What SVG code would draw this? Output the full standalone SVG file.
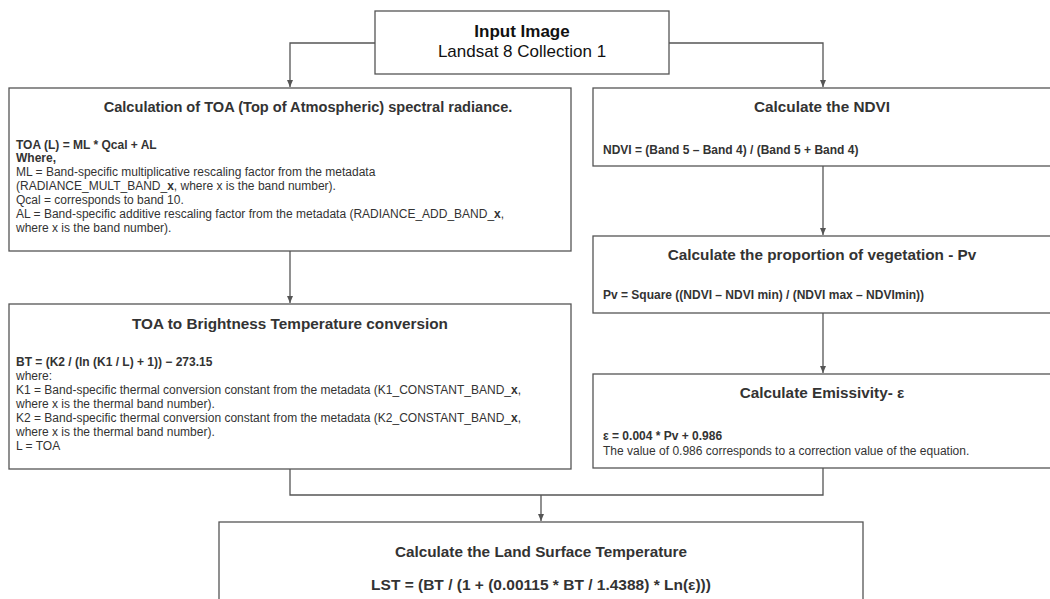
<svg xmlns="http://www.w3.org/2000/svg" width="1050" height="599" viewBox="0 0 1050 599">
<defs>
<marker id="arr" markerWidth="8" markerHeight="8" refX="7" refY="4" orient="auto" markerUnits="userSpaceOnUse">
<path d="M0,1 L7,4 L0,7 Z" fill="#555"/>
</marker>
<style>
.box{fill:#fff;stroke:#555;stroke-width:1.3}
.ln{fill:none;stroke:#555;stroke-width:1.3}
text{font-family:"Liberation Sans",Arial,sans-serif;fill:#333}
.t{font-size:15.3px;font-weight:bold;text-anchor:middle}
.b{font-size:12px;font-weight:bold}
.r{font-size:12px}
</style>
</defs>
<rect width="1050" height="599" fill="#fff"/>
<g id="connectors">
<path class="ln" d="M375,43 H290 V87" marker-end="url(#arr)"/>
<path class="ln" d="M669,43 H823 V87" marker-end="url(#arr)"/>
<path class="ln" d="M290,251 V303" marker-end="url(#arr)"/>
<path class="ln" d="M823,166 V235" marker-end="url(#arr)"/>
<path class="ln" d="M823,313 V373" marker-end="url(#arr)"/>
<path class="ln" d="M290,469 V495 H823 V468"/>
<path class="ln" d="M541,495 V521" marker-end="url(#arr)"/>
</g>
<g id="input">
<rect class="box" x="375" y="11" width="294" height="63"/>
<text x="522" y="37" style="font-size:17px;font-weight:bold;text-anchor:middle;fill:#111">Input Image</text>
<text x="522" y="57" style="font-size:17px;text-anchor:middle;fill:#111">Landsat 8 Collection 1</text>
</g>
<g id="toa">
<rect class="box" x="9" y="88" width="562" height="163"/>
<text class="t" x="308" y="112" style="font-size:14.6px">Calculation of TOA (Top of Atmospheric) spectral radiance.</text>
<text class="b" x="16" y="149">TOA (L) = ML * Qcal + AL</text>
<text class="b" x="16" y="162">Where,</text>
<text class="r" x="16" y="176">ML = Band-specific multiplicative rescaling factor from the metadata</text>
<text class="r" x="16" y="190">(RADIANCE_MULT_BAND_<tspan font-weight="bold">x</tspan>, where x is the band number).</text>
<text class="r" x="16" y="204">Qcal = corresponds to band 10.</text>
<text class="r" x="16" y="218">AL = Band-specific additive rescaling factor from the metadata (RADIANCE_ADD_BAND_<tspan font-weight="bold">x</tspan>,</text>
<text class="r" x="16" y="232">where x is the band number).</text>
</g>
<g id="bt">
<rect class="box" x="9" y="304" width="562" height="165"/>
<text class="t" x="290" y="329">TOA to Brightness Temperature conversion</text>
<text class="b" x="16" y="366">BT = (K2 / (ln (K1 / L) + 1)) − 273.15</text>
<text class="r" x="16" y="380">where:</text>
<text class="r" x="16" y="394">K1 = Band-specific thermal conversion constant from the metadata (K1_CONSTANT_BAND_<tspan font-weight="bold">x</tspan>,</text>
<text class="r" x="16" y="408">where x is the thermal band number).</text>
<text class="r" x="16" y="422">K2 = Band-specific thermal conversion constant from the metadata (K2_CONSTANT_BAND_<tspan font-weight="bold">x</tspan>,</text>
<text class="r" x="16" y="436">where x is the thermal band number).</text>
<text class="r" x="16" y="450">L = TOA</text>
</g>
<g id="ndvi">
<rect class="box" x="593" y="88" width="460" height="78"/>
<text class="t" x="822" y="112">Calculate the NDVI</text>
<text class="b" x="603" y="154">NDVI = (Band 5 – Band 4) / (Band 5 + Band 4)</text>
</g>
<g id="pv">
<rect class="box" x="593" y="236" width="460" height="77"/>
<text class="t" x="822" y="260">Calculate the proportion of vegetation - Pv</text>
<text class="b" x="603" y="299">Pv = Square ((NDVI – NDVI min) / (NDVI max – NDVImin))</text>
</g>
<g id="emissivity">
<rect class="box" x="593" y="374" width="460" height="94"/>
<text class="t" x="822" y="398">Calculate Emissivity-  ε</text>
<text class="b" x="603" y="440">ε = 0.004 * Pv + 0.986</text>
<text class="r" x="603" y="455">The value of 0.986 corresponds to a correction value of the equation.</text>
</g>
<g id="lst">
<rect class="box" x="219" y="522" width="644" height="90"/>
<text class="t" x="541" y="557">Calculate the Land Surface Temperature</text>
<text x="541" y="590" style="font-size:15.5px;font-weight:bold;text-anchor:middle">LST = (BT / (1 + (0.00115 * BT / 1.4388) * Ln(ε)))</text>
</g>
</svg>
